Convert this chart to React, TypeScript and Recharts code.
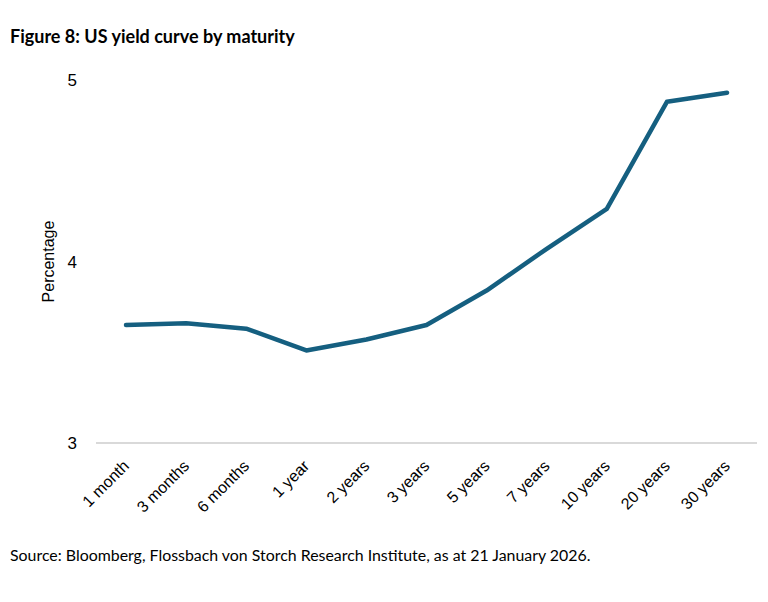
import { Line, LineChart, XAxis, YAxis } from 'recharts'

const maturities = [
  '1 month',
  '3 months',
  '6 months',
  '1 year',
  '2 years',
  '3 years',
  '5 years',
  '7 years',
  '10 years',
  '20 years',
  '30 years',
]
const yields = [3.65, 3.66, 3.63, 3.51, 3.57, 3.65, 3.84, 4.07, 4.29, 4.88, 4.93]
const yTicks = [3, 4, 5]

const data = maturities.map((m, i) => ({ maturity: m, value: yields[i] }))

const axisFont = '"Liberation Sans", Arial, sans-serif'

function AngledTick({ x, y, payload }: any) {
  return (
    <g transform={`translate(${x + 4},${y + 16})`}>
      <text
        textAnchor="end"
        transform="rotate(-45)"
        fontSize={16}
        fontFamily={axisFont}
        fill="#000"
      >
        {payload.value}
      </text>
    </g>
  )
}

export default function App() {
  return (
    <div style={{ position: 'absolute', left: 0, top: 0, width: 768, height: 602, background: '#fff' }}>
      <div
        style={{
          position: 'absolute',
          left: 10,
          top: 25,
          fontFamily: 'Lato, "Open Sans", sans-serif',
          fontWeight: 700,
          fontSize: 18,
          color: '#000',
        }}
      >
        Figure 8: US yield curve by maturity
      </div>
      <div style={{ position: 'absolute', left: 0, top: 0 }}>
        <LineChart width={768} height={540} data={data} margin={{ top: 80, right: 11, bottom: 0, left: 0 }}>
          <XAxis
            dataKey="maturity"
            interval={0}
            height={97}
            padding={{ left: 30, right: 30 }}
            tickLine={false}
            axisLine={{ stroke: '#d9d9d9', strokeWidth: 2 }}
            tick={<AngledTick />}
          />
          <YAxis
            domain={[3, 5]}
            ticks={yTicks}
            width={96}
            axisLine={false}
            tickLine={false}
            tickSize={0}
            tickMargin={19}
            tick={{ fontSize: 17, fontFamily: axisFont, fill: '#000' }}
            label={{
              value: 'Percentage',
              angle: -90,
              position: 'insideLeft',
              offset: 48,
              style: { fontSize: 16, fontFamily: axisFont, fill: '#000', textAnchor: 'middle' },
            }}
          />
          <Line
            type="linear"
            dataKey="value"
            stroke="#155f80"
            strokeWidth={4.5}
            strokeLinecap="round"
            strokeLinejoin="round"
            dot={false}
            isAnimationActive={false}
          />
        </LineChart>
      </div>
      <div
        style={{
          position: 'absolute',
          left: 10,
          top: 545,
          fontFamily: 'Lato, "Open Sans", sans-serif',
          fontSize: 15.9,
          color: '#000',
        }}
      >
        Source: Bloomberg, Flossbach von Storch Research Institute, as at 21 January 2026.
      </div>
    </div>
  )
}
